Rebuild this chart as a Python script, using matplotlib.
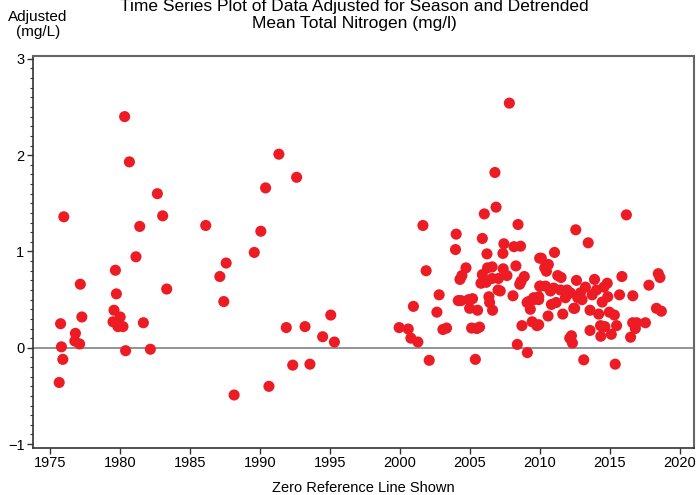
import matplotlib.pyplot as plt
from matplotlib.ticker import MultipleLocator

plt.rcParams["font.family"] = ["Liberation Sans", "DejaVu Sans"]

# decimal year of each sample and its season-adjusted, detrended value (mg/L)
years = [
    1975.97, 1975.74, 1975.80, 1975.90, 1975.64, 1976.80, 1976.76, 1977.10, 1977.15, 1977.26,
    1980.32, 1980.66, 1979.66, 1979.73, 1979.56, 1979.49, 1980.00, 1979.84, 1980.20, 1980.39,
    1981.13, 1981.40, 1982.66, 1983.04, 1981.66, 1982.16, 1983.33, 1986.12, 1987.13, 1987.58,
    1987.41, 1988.15, 1989.59, 1990.06, 1990.40, 1991.35, 1992.62, 1990.64, 1991.88, 1992.34,
    1993.22, 1993.57, 1994.48, 1995.06, 1995.32, 1999.95, 2000.60, 2000.79, 2001.29, 2000.97,
    2001.65, 2001.88, 2002.10, 2007.83, 2006.80, 2006.88, 2006.04, 2004.03, 2003.98, 2005.90,
    2008.45, 2002.81, 2002.65, 2003.08, 2003.34, 2004.18, 2004.37, 2004.92, 2005.20, 2004.99,
    2005.56, 2005.13, 2005.50, 2005.70, 2005.40, 2004.30, 2004.44, 2004.73, 2006.23, 2005.90,
    2005.80, 2006.18, 2006.27, 2006.60, 2006.60, 2007.05, 2007.39, 2007.66, 2007.37, 2007.44,
    2008.16, 2008.63, 2008.30, 2008.90, 2008.67, 2008.57, 2006.37, 2006.42, 2006.63, 2007.02,
    2007.18, 2008.09, 2008.73, 2008.40, 2009.12, 2009.10, 2009.33, 2009.46, 2009.80, 2009.57,
    2009.93, 2010.00, 2010.00, 2016.20, 2012.58, 2013.47, 2011.06, 2010.12, 2010.62, 2010.36,
    2010.48, 2011.29, 2011.53, 2012.63, 2013.92, 2015.88, 2018.48, 2018.60, 2017.81, 2016.66,
    2015.71, 2014.83, 2014.59, 2014.87, 2014.47, 2014.06, 2013.75, 2013.27, 2012.91, 2012.72,
    2013.03, 2012.44, 2012.20, 2011.96, 2011.84, 2011.48, 2011.00, 2010.77, 2011.18, 2010.84,
    2010.42, 2010.05, 2009.93, 2009.57, 2009.21, 2010.60, 2011.65, 2012.50, 2013.60, 2014.22,
    2014.98, 2015.34, 2009.93, 2012.15, 2012.34, 2012.27, 2013.60, 2014.35, 2014.66, 2014.37,
    2015.12, 2015.50, 2016.50, 2016.65, 2016.84, 2016.94, 2017.56, 2018.35, 2018.70, 2013.15,
    2015.40,
]
values = [
    1.36, 0.25, 0.01, -0.12, -0.36, 0.15, 0.07, 0.04, 0.66, 0.32,
    2.40, 1.93, 0.805, 0.56, 0.39, 0.27, 0.32, 0.22, 0.22, -0.03,
    0.945, 1.26, 1.60, 1.37, 0.26, -0.015, 0.61, 1.27, 0.74, 0.88,
    0.48, -0.49, 0.99, 1.21, 1.66, 2.01, 1.77, -0.40, 0.21, -0.18,
    0.22, -0.17, 0.115, 0.34, 0.06, 0.21, 0.195, 0.10, 0.06, 0.43,
    1.27, 0.80, -0.13, 2.54, 1.82, 1.46, 1.39, 1.18, 1.02, 1.135,
    1.28, 0.55, 0.37, 0.19, 0.205, 0.49, 0.49, 0.50, 0.51, 0.41,
    0.39, 0.205, 0.20, 0.215, -0.12, 0.71, 0.75, 0.83, 0.975, 0.76,
    0.67, 0.68, 0.83, 0.84, 0.72, 0.72, 0.82, 0.75, 0.98, 1.08,
    1.05, 1.055, 0.85, 0.74, 0.69, 0.66, 0.53, 0.47, 0.39, 0.60,
    0.59, 0.54, 0.23, 0.035, -0.05, 0.47, 0.40, 0.27, 0.23, 0.50,
    0.50, 0.64, 0.93, 1.38, 1.225, 1.09, 0.99, 0.93, 0.865, 0.83,
    0.795, 0.75, 0.73, 0.70, 0.71, 0.74, 0.77, 0.73, 0.65, 0.54,
    0.55, 0.67, 0.63, 0.53, 0.475, 0.60, 0.55, 0.63, 0.57, 0.52,
    0.50, 0.41, 0.57, 0.60, 0.52, 0.60, 0.62, 0.59, 0.47, 0.45,
    0.64, 0.64, 0.53, 0.52, 0.48, 0.33, 0.35, 0.41, 0.39, 0.35,
    0.37, 0.34, 0.24, 0.10, 0.05, 0.125, 0.18, 0.23, 0.22, 0.12,
    0.14, 0.23, 0.11, 0.26, 0.20, 0.26, 0.26, 0.41, 0.38, -0.125,
    -0.17,
]

fig = plt.figure(figsize=(6.97, 4.95), dpi=100)
ax = fig.add_axes([0.047, 0.095, 0.949, 0.792])

ax.axhline(0, color="#8a8a8a", lw=1.3, zorder=1)
ax.scatter(years, values, s=64, color="#ed1c24", edgecolors="none", zorder=3)

ax.set_xlim(1973.75, 2021.05)
ax.set_ylim(-1.04, 3.03)
ax.xaxis.set_major_locator(MultipleLocator(5))
ax.yaxis.set_major_locator(MultipleLocator(1))
ax.yaxis.set_minor_locator(MultipleLocator(0.1))
ax.tick_params(axis="both", which="major", labelsize=10.5, length=4, width=1, color="#333333", pad=2)
ax.tick_params(axis="y", which="minor", length=2, width=0.8, color="#333333")

for side in ["left", "bottom"]:
    ax.spines[side].set_color("#333333")
    ax.spines[side].set_linewidth(1.2)
for side in ["top", "right"]:
    ax.spines[side].set_color("#666666")
    ax.spines[side].set_linewidth(1.5)

ax.set_xlabel("Zero Reference Line Shown", fontsize=10.5, labelpad=8)
fig.text(0.508, 0.970, "Time Series Plot of Data Adjusted for Season and Detrended\nMean Total Nitrogen (mg/l)",
         ha="center", va="center", fontsize=12.5, linespacing=1.15)
fig.text(0.054, 0.951, "Adjusted\n(mg/L)", ha="center", va="center", fontsize=11, linespacing=1.05)

fig.savefig("out.png", dpi=100)
